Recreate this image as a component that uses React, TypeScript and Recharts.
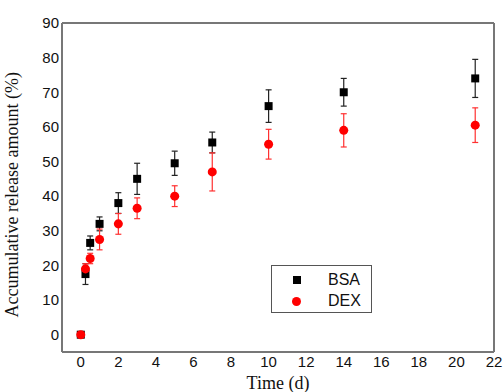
import {
  ScatterChart,
  Scatter,
  XAxis,
  YAxis,
  ZAxis,
  ErrorBar,
  ReferenceLine,
} from 'recharts';

const times = [0, 0.25, 0.5, 1, 2, 3, 5, 7, 10, 14, 21];
const bsa = [0, 17.5, 26.5, 32, 38, 45, 49.5, 55.5, 66, 70, 74];
const bsaErr = [0, 3, 2, 2, 3, 4.5, 3.5, 3, 4.7, 4, 5.5];
const dex = [0, 19, 22, 27.5, 32, 36.5, 40, 47, 55, 59, 60.5];
const dexErr = [0, 1.5, 1.5, 3, 3, 3, 3, 5.5, 4.3, 4.8, 5];

const xTicks = [0, 2, 4, 6, 8, 10, 12, 14, 16, 18, 20, 22];
const yTicks = [0, 10, 20, 30, 40, 50, 60, 70, 80, 90];

const bsaData = times.map((t, i) => ({ x: t, y: bsa[i], err: bsaErr[i] }));
const dexData = times.map((t, i) => ({ x: t, y: dex[i], err: dexErr[i] }));

const tickStyle = { fontFamily: 'Liberation Sans, Arial', fontSize: 15, fill: '#111' };
const titleFont = 'Liberation Serif, Times New Roman, serif';

// legend box drawn by hand, on top of the chart
function LegendBox() {
  return (
    <div
      style={{
        position: 'absolute',
        left: 271,
        top: 265,
        border: '1.5px solid #555',
        width: 101,
        height: 48,
        boxSizing: 'border-box',
        fontFamily: 'Liberation Sans, Arial',
        fontSize: 16,
        color: '#111',
        background: '#fff',
      }}
    >
      <div style={{ display: 'flex', alignItems: 'center', height: 23, paddingTop: 2 }}>
        <span style={{ display: 'inline-block', width: 8, height: 8, background: '#000', marginLeft: 21 }} />
        <span style={{ marginLeft: 27 }}>BSA</span>
      </div>
      <div style={{ display: 'flex', alignItems: 'center', height: 20 }}>
        <span
          style={{ display: 'inline-block', width: 9, height: 9, borderRadius: '50%', background: '#ff0000', marginLeft: 20 }}
        />
        <span style={{ marginLeft: 27 }}>DEX</span>
      </div>
    </div>
  );
}

export default function App() {
  return (
    <div style={{ position: 'absolute', left: 0, top: 0, width: 504, height: 392, background: '#fff' }}>
      <ScatterChart width={504} height={392} margin={{ top: 23, right: 10, bottom: 10, left: 22 }}>
        <XAxis
          type="number"
          dataKey="x"
          domain={[-1, 22]}
          ticks={xTicks}
          tickLine={false}
          tickSize={0}
          tickMargin={4}
          height={30}
          axisLine={{ stroke: '#777', strokeWidth: 2 }}
          tick={tickStyle}
          label={{ value: 'Time (d)', position: 'insideBottom', offset: -7, fontFamily: titleFont, fontSize: 18, fill: '#111' }}
        />
        <YAxis
          type="number"
          dataKey="y"
          domain={[-5, 90]}
          ticks={yTicks}
          tickLine={false}
          tickSize={0}
          tickMargin={3}
          width={40}
          axisLine={{ stroke: '#777', strokeWidth: 2 }}
          tick={tickStyle}
          label={{
            value: 'Accumulative release amount (%)',
            angle: -90,
            position: 'insideLeft',
            offset: -10,
            dy: 130,
            fontFamily: titleFont,
            fontSize: 18,
            fill: '#111',
          }}
        />
        <ZAxis range={[100, 100]} />
        <ReferenceLine y={90} stroke="#777" strokeWidth={2} />
        <ReferenceLine x={22} stroke="#777" strokeWidth={2} />
        <Scatter name="BSA" data={bsaData} fill="#000" shape="square" isAnimationActive={false}>
          <ErrorBar dataKey="err" direction="y" width={3} stroke="#222" strokeWidth={1.2} />
        </Scatter>
        <Scatter name="DEX" data={dexData} fill="#ff0000" shape="circle" isAnimationActive={false}>
          <ErrorBar dataKey="err" direction="y" width={3} stroke="#ff3030" strokeWidth={1.2} />
        </Scatter>
      </ScatterChart>
      <LegendBox />
    </div>
  );
}
